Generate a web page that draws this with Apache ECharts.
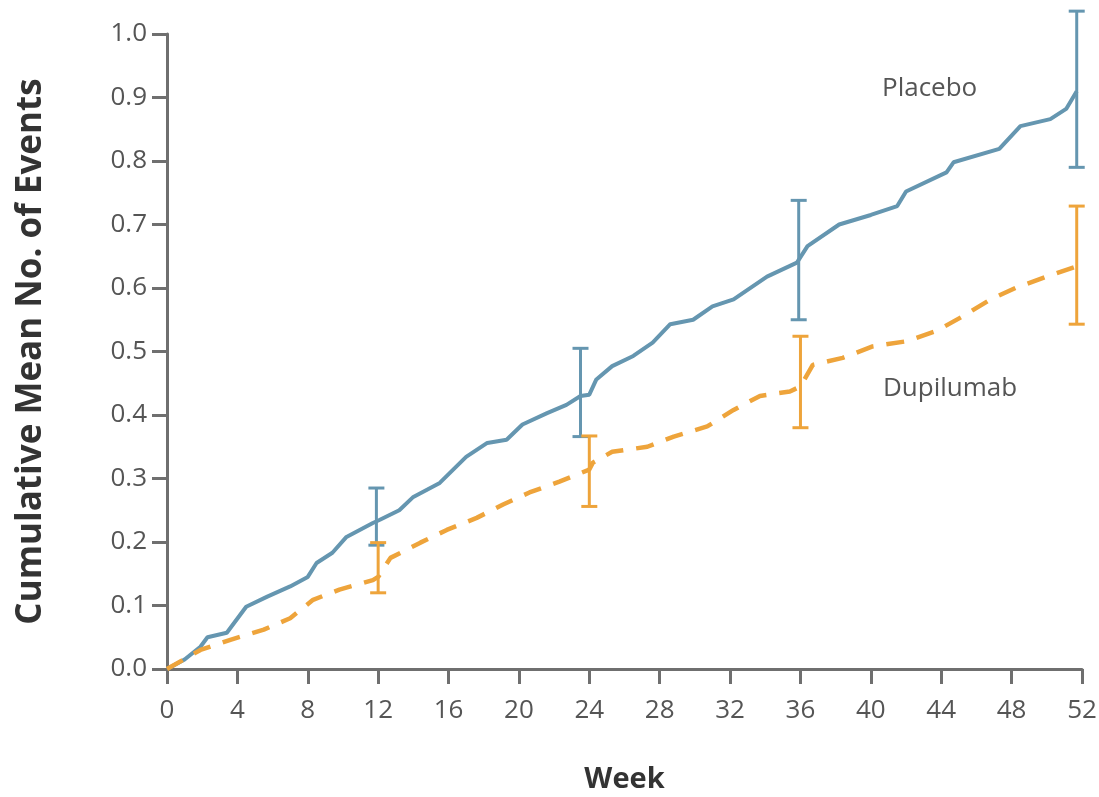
<!DOCTYPE html>
<html><head><meta charset="utf-8">
<script src="https://cdn.jsdelivr.net/npm/echarts@6/dist/echarts.min.js"></script>
<style>html,body{margin:0;padding:0;background:#fff}#c{width:1099px;height:797px}</style>
</head><body><div id="c"></div>
<script>
const placeboWeeks = [0,1,1.9,2.3,3.4,4.5,5.7,7.0,8.0,8.5,9.4,10.2,11.7,12.1,13.2,14.0,15.5,17.0,18.2,19.3,20.2,21.6,22.7,23.5,24.0,24.4,25.3,26.5,27.6,28.6,29.9,31.0,32.2,34.1,35.8,36.4,38.2,40.0,41.5,42.0,44.3,44.7,47.3,48.5,50.2,51.1,51.7];
const placeboValues = [0,0.015,0.035,0.05,0.057,0.098,0.114,0.13,0.145,0.167,0.183,0.208,0.23,0.235,0.25,0.271,0.293,0.334,0.356,0.361,0.385,0.403,0.416,0.43,0.432,0.456,0.477,0.493,0.514,0.543,0.55,0.571,0.582,0.618,0.64,0.666,0.70,0.715,0.729,0.752,0.782,0.798,0.819,0.855,0.866,0.882,0.91];
const dupiWeeks = [0,1.9,3.6,5.5,7.0,8.3,9.8,11.7,12.0,12.7,14.4,15.9,17.6,19.1,20.6,22.3,24.0,24.2,25.3,27.3,28.8,30.7,32.2,33.7,35.4,36.0,36.7,38.4,40.1,42.0,43.7,45.2,46.8,48.3,50.0,51.7];
const dupiValues = [0,0.03,0.046,0.062,0.08,0.109,0.125,0.14,0.145,0.175,0.199,0.219,0.238,0.259,0.278,0.295,0.314,0.325,0.342,0.35,0.366,0.382,0.408,0.43,0.437,0.445,0.479,0.49,0.508,0.516,0.532,0.555,0.582,0.601,0.618,0.634];
const placeboErrWeeks = [11.9,23.5,35.9,51.7];
const placeboErrLow = [0.195,0.366,0.55,0.79];
const placeboErrHigh = [0.285,0.505,0.738,1.036];
const dupiErrWeeks = [12.0,24.0,36.0,51.7];
const dupiErrLow = [0.12,0.256,0.38,0.543];
const dupiErrHigh = [0.199,0.367,0.524,0.729];
const xTicks = [0,4,8,12,16,20,24,28,32,36,40,44,48,52];

const BLUE = '#6596b0', ORANGE = '#eea43b', AX = '#6f6f6f', TXT = '#555';
const FONT = '"Open Sans",sans-serif';

function errSeries(weeks, lo, hi, color){
  return {
    type:'custom', z:5,
    data: weeks.map((w,i)=>[w,lo[i],hi[i]]),
    renderItem:(params, api)=>{
      const p1 = api.coord([api.value(0), api.value(1)]);
      const p2 = api.coord([api.value(0), api.value(2)]);
      const hw = 8;
      const st = {stroke:color, lineWidth:3};
      return {type:'group', children:[
        {type:'line', shape:{x1:p1[0],y1:p1[1],x2:p2[0],y2:p2[1]}, style:st},
        {type:'line', shape:{x1:p1[0]-hw,y1:p1[1],x2:p1[0]+hw,y2:p1[1]}, style:st},
        {type:'line', shape:{x1:p2[0]-hw,y1:p2[1],x2:p2[0]+hw,y2:p2[1]}, style:st}
      ]};
    }
  };
}

const chart = echarts.init(document.getElementById('c'));
chart.setOption({
  animation:false,
  grid:{left:167,right:17,top:34,bottom:128,containLabel:false,outerBoundsMode:'none'},
  xAxis:{type:'value',min:0,max:52,interval:4,
    name:'Week',nameLocation:'middle',nameGap:96,
    nameTextStyle:{fontFamily:FONT,fontSize:29,fontWeight:'bold',color:'#333'},
    axisLine:{lineStyle:{color:AX,width:3}},
    axisTick:{length:15,lineStyle:{color:AX,width:3}},
    axisLabel:{margin:29,fontFamily:FONT,fontSize:26,color:TXT,
      formatter:v=>xTicks.includes(v)?String(v):''},
    splitLine:{show:false}},
  yAxis:{type:'value',min:0,max:1,interval:0.1,
    name:'Cumulative Mean No. of Events',nameLocation:'middle',nameGap:118,nameRotate:90,
    nameTextStyle:{fontFamily:FONT,fontSize:35,fontWeight:'bold',color:'#333'},
    axisLine:{show:true,lineStyle:{color:AX,width:3}},
    axisTick:{show:true,length:15,lineStyle:{color:AX,width:3}},
    axisLabel:{margin:20,fontFamily:FONT,fontSize:26,color:TXT,formatter:v=>v.toFixed(1)},
    splitLine:{show:false}},
  series:[
    {type:'line',name:'Placebo',data:placeboWeeks.map((w,i)=>[w,placeboValues[i]]),
      showSymbol:false,lineStyle:{color:BLUE,width:4},z:3},
    {type:'line',name:'Dupilumab',data:dupiWeeks.map((w,i)=>[w,dupiValues[i]]),
      showSymbol:false,lineStyle:{color:ORANGE,width:4.5,type:[18,13]},z:3},
    errSeries(placeboErrWeeks,placeboErrLow,placeboErrHigh,BLUE),
    errSeries(dupiErrWeeks,dupiErrLow,dupiErrHigh,ORANGE)
  ],
  graphic:[
    {type:'text',left:882,top:76,style:{text:'Placebo',fontFamily:FONT,fontSize:26,fill:TXT}},
    {type:'text',left:883,top:376,style:{text:'Dupilumab',fontFamily:FONT,fontSize:26,fill:TXT}}
  ]
});
</script></body></html>
